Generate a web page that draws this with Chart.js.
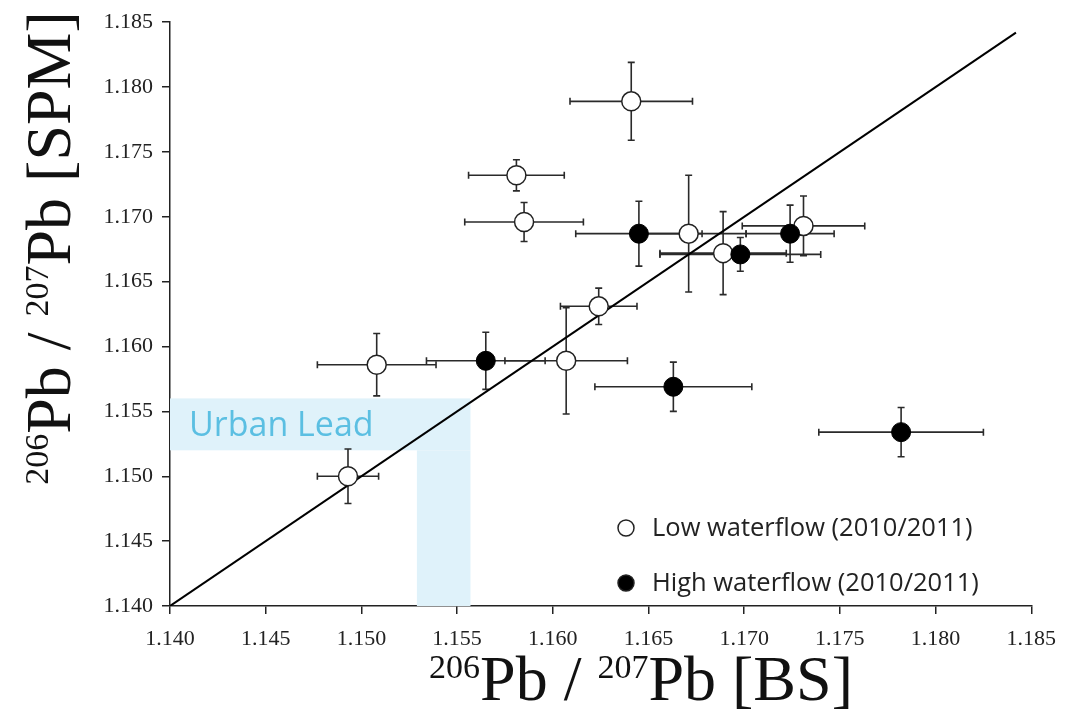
<!DOCTYPE html>
<html>
<head>
<meta charset="utf-8">
<script src="https://cdn.jsdelivr.net/npm/chart.js@4.4.1/dist/chart.umd.min.js"></script>
<style>
  html, body { margin: 0; padding: 0; background: #fff; }
  #wrap { width: 1068px; height: 726px; }
</style>
</head>
<body>
<div id="wrap"><canvas id="myChart" width="1068" height="726"></canvas></div>
<script>
// low waterflow (open circles)
lowX = [1.1641, 1.1581, 1.1585, 1.1671, 1.1689, 1.1731, 1.1624, 1.1508, 1.1607, 1.1493];
lowY = [1.1789, 1.1732, 1.1696, 1.1687, 1.1672, 1.1693, 1.1631, 1.1586, 1.1589, 1.1500];
lowXErr = [0.0032, 0.0025, 0.0031, 0.0030, 0.0033, 0.0032, 0.0020, 0.0031, 0.0032, 0.0016];
lowYErr = [0.0030, 0.0012, 0.0015, 0.0045, 0.0032, 0.0023, 0.0014, 0.0024, 0.0041, 0.0021];

// high waterflow (filled circles)
highX = [1.1645, 1.1698, 1.1724, 1.1565, 1.1663, 1.1782];
highY = [1.1687, 1.1671, 1.1687, 1.1589, 1.1569, 1.1534];
highXErr = [0.0033, 0.0042, 0.0023, 0.0031, 0.0041, 0.0043];
highYErr = [0.0025, 0.0013, 0.0022, 0.0022, 0.0019, 0.0019];

// 1:1 line and urban lead range
oneToOne = [1.140, 1.1842];
urbanX = [1.1529, 1.1557];
urbanY = [1.152, 1.156];

axisMin = 1.140;
axisMax = 1.185;
tickStep = 0.005;

labels = ["Low waterflow (2010/2011)", "High waterflow (2010/2011)"];

function toPoints(xs, ys) {
    return xs.map(function (x, i) { return { x: x, y: ys[i] }; });
}

var errors = [
    { x: lowX, y: lowY, xe: lowXErr, ye: lowYErr },
    { x: highX, y: highY, xe: highXErr, ye: highYErr }
];

var backdrop = {
    id: 'backdrop',
    beforeDatasetsDraw: function (chart) {
        var ctx = chart.ctx, xs = chart.scales.x, ys = chart.scales.y;
        ctx.save();
        // urban lead band (horizontal + vertical stem)
        ctx.fillStyle = '#dff2fa';
        var x0 = xs.getPixelForValue(axisMin);
        var xa = xs.getPixelForValue(urbanX[0]);
        var xb = xs.getPixelForValue(urbanX[1]);
        var ya = ys.getPixelForValue(urbanY[0]);
        var yb = ys.getPixelForValue(urbanY[1]);
        var y0 = ys.getPixelForValue(axisMin);
        ctx.fillRect(x0, yb, xb - x0, ya - yb);
        ctx.fillRect(xa, ya, xb - xa, y0 - ya);
        ctx.fillStyle = '#5bbfe2';
        ctx.font = '34px "Open Sans"';
        ctx.textBaseline = 'alphabetic';
        ctx.fillText('Urban Lead', x0 + 19, ya - 14);

        // error bars
        ctx.strokeStyle = '#2a2a2a';
        ctx.lineWidth = 1.6;
        var cap = 3.5;
        errors.forEach(function (s) {
            s.x.forEach(function (xv, i) {
                var px = xs.getPixelForValue(xv), py = ys.getPixelForValue(s.y[i]);
                var l = xs.getPixelForValue(xv - s.xe[i]), r = xs.getPixelForValue(xv + s.xe[i]);
                var t = ys.getPixelForValue(s.y[i] + s.ye[i]), b = ys.getPixelForValue(s.y[i] - s.ye[i]);
                ctx.beginPath();
                ctx.moveTo(l, py); ctx.lineTo(r, py);
                ctx.moveTo(l, py - cap); ctx.lineTo(l, py + cap);
                ctx.moveTo(r, py - cap); ctx.lineTo(r, py + cap);
                ctx.moveTo(px, t); ctx.lineTo(px, b);
                ctx.moveTo(px - cap, t); ctx.lineTo(px + cap, t);
                ctx.moveTo(px - cap, b); ctx.lineTo(px + cap, b);
                ctx.stroke();
            });
        });
        ctx.restore();
    }
};

function drawRatio(ctx, tail) {
    var big = '64px "Liberation Serif"', small = '34px "Liberation Serif"';
    var parts = [['206', small], ['Pb / ', big], ['207', small], ['Pb ' + tail, big]];
    var total = 0;
    parts.forEach(function (p) { ctx.font = p[1]; total += ctx.measureText(p[0]).width; });
    var x = -total / 2;
    parts.forEach(function (p) {
        ctx.font = p[1];
        ctx.fillText(p[0], x, p[1] === small ? -22 : 0);
        x += ctx.measureText(p[0]).width;
    });
}

var extras = {
    id: 'extras',
    afterDraw: function (chart) {
        var ctx = chart.ctx;
        ctx.save();
        ctx.fillStyle = '#111';
        ctx.textBaseline = 'alphabetic';
        // x title
        ctx.save();
        ctx.translate(641, 700);
        drawRatio(ctx, '[BS]');
        ctx.restore();
        // y title
        ctx.save();
        ctx.translate(70, 248);
        ctx.rotate(-Math.PI / 2);
        drawRatio(ctx, '[SPM]');
        ctx.restore();

        // legend
        var lx = 626, rows = [528, 583];
        chart.data.datasets.slice(1).forEach(function (ds, i) {
            ctx.beginPath();
            ctx.arc(lx, rows[i], 8, 0, Math.PI * 2);
            ctx.fillStyle = ds.backgroundColor;
            ctx.fill();
            ctx.lineWidth = 1.5;
            ctx.strokeStyle = '#222';
            ctx.stroke();
            ctx.fillStyle = '#222';
            ctx.font = '25.5px "Open Sans"';
            ctx.textBaseline = 'middle';
            ctx.fillText(ds.label, lx + 26, rows[i] + 1);
        });
        ctx.restore();
    }
};

function axis(fit, pad) {
    return {
        type: 'linear',
        min: axisMin,
        max: axisMax,
        ticks: {
            stepSize: tickStep,
            color: '#222',
            padding: pad,
            font: { family: '"Liberation Serif"', size: 22 },
            callback: function (v) { return v.toFixed(3); }
        },
        grid: { drawOnChartArea: false, drawTicks: true, tickLength: 8, color: '#222', lineWidth: 1.5 },
        border: { display: true, color: '#222', width: 1.5 },
        afterFit: fit
    };
}

var ctx = document.getElementById("myChart").getContext('2d');
var myChart = new Chart(ctx, {
    type: 'scatter',
    data: {
        datasets: [
            {
                type: 'line',
                label: '1:1',
                data: toPoints(oneToOne, oneToOne),
                borderColor: '#000',
                borderWidth: 2,
                pointRadius: 0,
                order: 3
            },
            {
                label: labels[0],
                data: toPoints(lowX, lowY),
                backgroundColor: '#fff',
                borderColor: '#222',
                borderWidth: 1.5,
                pointRadius: 9.5,
                order: 2
            },
            {
                label: labels[1],
                data: toPoints(highX, highY),
                backgroundColor: '#000',
                borderColor: '#000',
                borderWidth: 1,
                pointRadius: 9.5,
                order: 1
            }
        ]
    },
    options: {
        responsive: false,
        animation: false,
        layout: { padding: { top: 20, right: 31, left: 0, bottom: 0 } },
        plugins: { legend: { display: false }, tooltip: { enabled: false } },
        scales: {
            x: axis(function (s) { s.height = 120; }, 12),
            y: axis(function (s) { s.width = 170; }, 9)
        }
    },
    plugins: [backdrop, extras]
});
</script>
</body>
</html>
